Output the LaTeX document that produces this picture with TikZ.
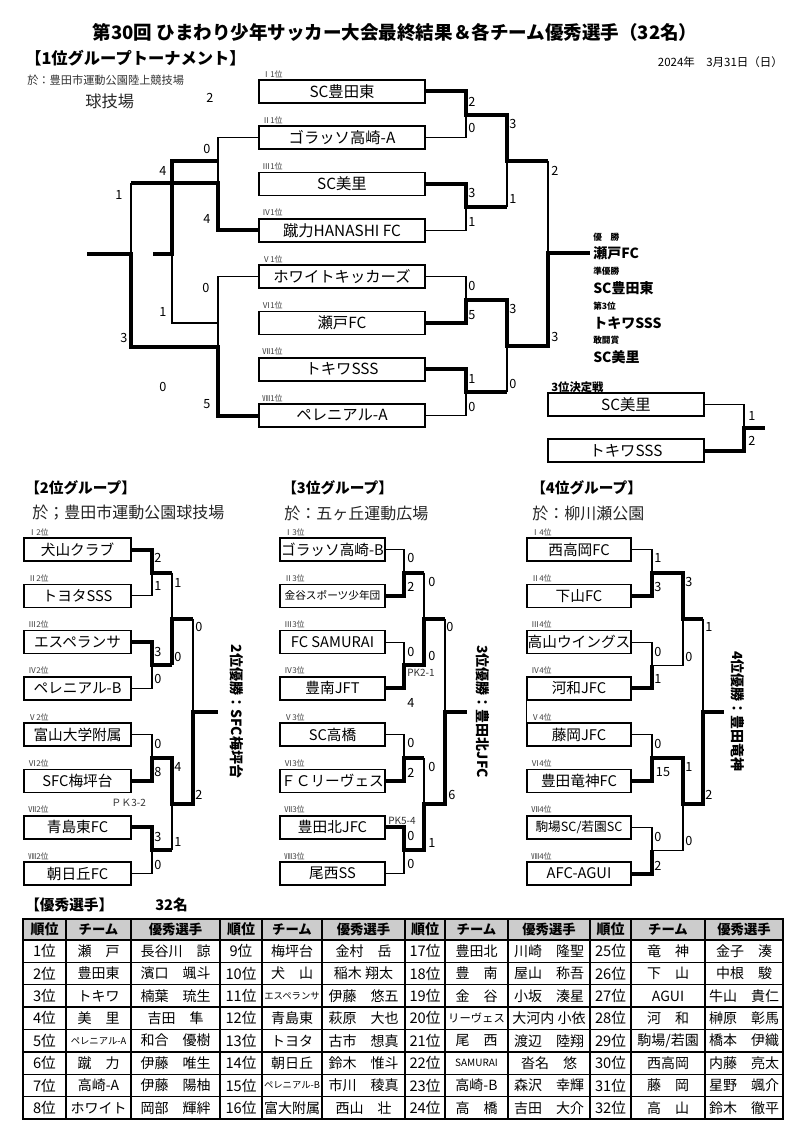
\documentclass[tikz,border=0pt]{standalone}
\usepackage{fontspec}
\setmainfont{Noto Sans CJK JP}
\newcommand\fz[1]{\fontsize{#1pt}{#1pt}\selectfont}
\newcommand\TR[8]{%
 \node[tc,font=\fz{11}] (#1r) at (#2,#5) {#6};
 \node[tc] (#1t) at (#3,#5) {#7};
 \node[tc] (#1p) at (#4,#5) {#8};}
\begin{document}
\begin{tikzpicture}[x=0.75pt,y=-0.75pt,
 box/.style={draw, line width=1.2pt, minimum height=17.25pt, inner sep=0pt, font=\fz{11.5}},
 topbox/.style={box, minimum width=124.5pt},
 g2box/.style={box, minimum width=80.25pt, font=\fz{11}},
 g3box/.style={box, minimum width=78.75pt, font=\fz{11}},
 g4box/.style={box, minimum width=78pt, font=\fz{11}},
 qbox/.style={box, minimum width=117pt},
 win/.style={line width=3pt},
 lose/.style={line width=0.8pt},
 sc/.style={font=\fz{9.5}, inner sep=0pt},
 lab/.style={font=\fz{6}, text=black!75, inner sep=0pt, anchor=west},
 hd/.style={font=\bfseries\fz{11}, inner sep=0pt, anchor=west},
 ven/.style={font=\fz{12}, inner sep=0pt, anchor=west, text=black!85},
 vt/.style={font=\bfseries\fz{10.5}, inner sep=0pt, rotate=-90},
 cl/.style={font=\bfseries\fz{6.5}, inner sep=0pt, anchor=west},
 cn/.style={font=\bfseries\fz{10.5}, inner sep=0pt, anchor=west},
 tc/.style={inner sep=0pt, font=\fz{10.5}},
 th/.style={inner sep=0pt, font=\bfseries\fz{10}},
 tl/.style={line width=1pt},
 pk/.style={font=\fz{7.5}, inner sep=0pt, anchor=west, text=black!80}]
\path[use as bounding box, fill=white] (0,0) rectangle (787,1126);

% ---------- titles ----------
\node[font=\bfseries\fz{13.9}, inner sep=0pt] (title) at (395,32) {第30回 ひまわり少年サッカー大会最終結果＆各チーム優秀選手（32名）};
\node[hd, font=\bfseries\fz{12.2}] (h1) at (25,58) {【1位グループトーナメント】};
\node[font=\fz{8.6}, inner sep=0pt, anchor=east] (date) at (783,62) {2024年　3月31日（日）};
\node[font=\fz{8.4}, inner sep=0pt, anchor=west, text=black!80] (v1) at (27,80) {於：豊田市運動公園陸上競技場};
\node[font=\fz{12.2}, inner sep=0pt, anchor=west, text=black!85] (v1b) at (85,101) {球技場};
\node[sc] (x2) at (210,98) {2};

% ---------- 1st group boxes ----------
\node[topbox] (t1) at (342,91.5) {SC豊田東};
\node[topbox] (t2) at (342,137.8) {ゴラッソ高崎-A};
\node[topbox] (t3) at (342,184.1) {SC美里};
\node[topbox] (t4) at (342,230.4) {蹴力HANASHI FC};
\node[topbox] (t5) at (342,276.7) {ホワイトキッカーズ};
\node[topbox] (t6) at (342,322.9) {瀬戸FC};
\node[topbox] (t7) at (342,369.2) {トキワSSS};
\node[topbox] (t8) at (342,415.5) {ペレニアル-A};
\node[lab] (l1) at (262,74) {Ⅰ1位};
\node[lab] (l2) at (262,120.3) {Ⅱ1位};
\node[lab] (l3) at (262,166.6) {Ⅲ1位};
\node[lab] (l4) at (262,212.9) {Ⅳ1位};
\node[lab] (l5) at (262,259.2) {Ⅴ1位};
\node[lab] (l6) at (262,305.4) {Ⅵ1位};
\node[lab] (l7) at (262,351.7) {Ⅶ1位};
\node[lab] (l8) at (262,398) {Ⅷ1位};

% right side bracket
\coordinate (m1) at (466,114.65);
\coordinate (m2) at (466,207.25);
\coordinate (m3) at (466,299.8);
\coordinate (m4) at (466,392.35);
\coordinate (s1) at (507,160.95);
\coordinate (s2) at (507,346.1);
\coordinate (f) at (548,253.5);
\coordinate (fe) at (590,253.5);
\draw[win] (t1.east) -| (m1) -| (s1) -- (s1 -| f);
\draw[lose] (s1 -| f) -- (f);
\draw[lose] (t2.east) -| (m1);
\draw[win] (t3.east) -| (m2) -- (m2 -| s1);
\draw[lose] (m2 -| s1) -- (s1);
\draw[lose] (t4.east) -| (m2);
\draw[lose] (t5.east) -| (m3);
\draw[win] (t6.east) -| (m3) -| (s2) -| (f) -- (fe);
\draw[win] (t7.east) -| (m4) -- (m4 -| s2);
\draw[lose] (m4 -| s2) -- (s2);
\draw[lose] (t8.east) -| (m4);

% left side bracket
\coordinate (a0) at (218,161);
\coordinate (a1) at (218,183);
\coordinate (b1) at (131,183);
\coordinate (c1) at (172,161);
\coordinate (c2) at (172,254);
\coordinate (c3) at (153,254);
\coordinate (c4) at (172,323);
\coordinate (a5) at (218,323);
\coordinate (b0) at (87,254);
\coordinate (b2) at (131,254);
\coordinate (b3) at (131,347);
\coordinate (a3) at (218,347);
\draw[lose] (t2.west) -| (a1);
\draw[win] (b1) -- (a1) |- (t4.west);
\draw[win] (c3) -- (c2) -- (c1) -- (a0);
\draw[lose] (c2) -- (c4) -- (a5);
\draw[lose] (b1) -- (b2);
\draw[win] (b0) -- (b2) -- (b3) -- (a3) |- (t8.west);
\draw[lose] (t5.west) -| (a3);

% scores top
\node[sc] (s01) at (472,102) {2};
\node[sc] (s02) at (472,128) {0};
\node[sc] (s03) at (472,193) {3};
\node[sc] (s04) at (472,222) {1};
\node[sc] (s05) at (513,124) {3};
\node[sc] (s06) at (513,199) {1};
\node[sc] (s07) at (555,171) {2};
\node[sc] (s08) at (555,337) {3};
\node[sc] (s09) at (472,286) {0};
\node[sc] (s10) at (472,315) {5};
\node[sc] (s11) at (472,379) {1};
\node[sc] (s12) at (472,407) {0};
\node[sc] (s13) at (513,309) {3};
\node[sc] (s14) at (513,384) {0};
\node[sc] (s15) at (207,149) {0};
\node[sc] (s16) at (163,171) {4};
\node[sc] (s17) at (119,195) {1};
\node[sc] (s18) at (207,219) {4};
\node[sc] (s19) at (206,288) {0};
\node[sc] (s20) at (163,312) {1};
\node[sc] (s21) at (124,338) {3};
\node[sc] (s22) at (163,387) {0};
\node[sc] (s23) at (207,404) {5};

% champions
\node[cl] (c01) at (593,237) {優　勝};
\node[cn] (c02) at (593,253) {瀬戸FC};
\node[cl] (c03) at (593,271) {準優勝};
\node[cn] (c04) at (593,288) {SC豊田東};
\node[cl] (c05) at (593,306) {第3位};
\node[cn] (c06) at (593,323) {トキワSSS};
\node[cl] (c07) at (593,340) {敢闘賞};
\node[cn] (c08) at (593,357) {SC美里};

% third place match
\node[font=\bfseries\fz{8.5}, inner sep=0pt, anchor=west] (q0) at (551,387) {3位決定戦};
\node[qbox] (q1) at (626,404.5) {SC美里};
\node[qbox] (q2) at (626,450.5) {トキワSSS};
\coordinate (qm) at (744,427.5);
\coordinate (qe) at (765,427.5);
\draw[lose] (q1.east) -| (qm);
\draw[win] (q2.east) -| (qm) -- (qe);
\node[sc] (s24) at (752,416) {1};
\node[sc] (s25) at (752,441) {2};

% ---------- group headers ----------
\node[hd] (h2) at (25,488) {【2位グループ】};
\node[ven] (v2) at (32,513) {於；豊田市運動公園球技場};
\node[hd] (h3) at (282,488) {【3位グループ】};
\node[ven] (v3) at (284,513) {於：五ヶ丘運動広場};
\node[hd] (h4) at (531,488) {【4位グループ】};
\node[ven] (v4) at (532,513) {於：柳川瀬公園};

% ---------- group 2 ----------
\node[g2box] (g2t1) at (77.5,549.5) {犬山クラブ};
\node[g2box] (g2t2) at (77.5,595.8) {トヨタSSS};
\node[g2box] (g2t3) at (77.5,642.1) {エスペランサ};
\node[g2box] (g2t4) at (77.5,688.4) {ペレニアル-B};
\node[g2box] (g2t5) at (77.5,734.7) {富山大学附属};
\node[g2box] (g2t6) at (77.5,781.0) {SFC梅坪台};
\node[g2box] (g2t7) at (77.5,827.3) {青島東FC};
\node[g2box] (g2t8) at (77.5,873.6) {朝日丘FC};
\node[lab] (g2l1) at (28,532) {Ⅰ2位};
\node[lab] (g2l2) at (28,578.3) {Ⅱ2位};
\node[lab] (g2l3) at (28,624.6) {Ⅲ2位};
\node[lab] (g2l4) at (28,670.9) {Ⅳ2位};
\node[lab] (g2l5) at (28,717.2) {Ⅴ2位};
\node[lab] (g2l6) at (28,763.5) {Ⅵ2位};
\node[lab] (g2l7) at (28,809.8) {Ⅶ2位};
\node[lab] (g2l8) at (28,856.1) {Ⅷ2位};
\coordinate (g2m1) at (152,572.65);
\coordinate (g2m2) at (152,665.25);
\coordinate (g2m3) at (152,757.85);
\coordinate (g2m4) at (152,850.45);
\coordinate (g2s1) at (172,618.95);
\coordinate (g2s2) at (172,804.15);
\coordinate (g2f) at (193,711.55);
\coordinate (g2e) at (218,711.55);
\draw[win] (g2t1.east) -| (g2m1) -- (g2m1 -| g2s1);
\draw[lose] (g2t2.east) -| (g2m1);
\draw[win] (g2t3.east) -| (g2m2) -- (g2m2 -| g2s1);
\draw[lose] (g2t4.east) -| (g2m2);
\draw[lose] (g2m1 -| g2s1) -- (g2s1);
\draw[win] (g2m2 -| g2s1) -- (g2s1) -- (g2s1 -| g2f);
\draw[lose] (g2s1 -| g2f) -- (g2f);
\draw[lose] (g2t5.east) -| (g2m3);
\draw[win] (g2t6.east) -| (g2m3) -- (g2m3 -| g2s2) -- (g2s2) -- (g2s2 -| g2f) -- (g2f) -- (g2e);
\draw[win] (g2t7.east) -| (g2m4) -- (g2m4 -| g2s2);
\draw[lose] (g2t8.east) -| (g2m4);
\draw[lose] (g2m4 -| g2s2) -- (g2s2);
\node[sc] (g2s01) at (158,558) {2};
\node[sc] (g2s02) at (158,586) {1};
\node[sc] (g2s03) at (178,583) {1};
\node[sc] (g2s04) at (199,627) {0};
\node[sc] (g2s05) at (158,652) {3};
\node[sc] (g2s06) at (178,657) {0};
\node[sc] (g2s07) at (158,679) {0};
\node[sc] (g2s08) at (158,744) {0};
\node[sc] (g2s09) at (158,772) {8};
\node[sc] (g2s10) at (178,767) {4};
\node[sc] (g2s11) at (199,795) {2};
\node[sc] (g2s12) at (158,837) {3};
\node[sc] (g2s13) at (178,842) {1};
\node[sc] (g2s14) at (158,865) {0};
\node[pk] (g2pk) at (111,803) {ＰＫ3-2};
\node[vt] (g2v) at (237,711.5) {2位優勝：SFC梅坪台};

% ---------- group 3 ----------
\node[g3box] (g3t1) at (332.5,549.5) {ゴラッソ高崎-B};
\node[g3box] (g3t2) at (332.5,595.8) {\fz{8}金谷スポーツ少年団};
\node[g3box] (g3t3) at (332.5,642.1) {FC SAMURAI};
\node[g3box] (g3t4) at (332.5,688.4) {豊南JFT};
\node[g3box] (g3t5) at (332.5,734.7) {SC高橋};
\node[g3box] (g3t6) at (332.5,781.0) {ＦＣリーヴェス};
\node[g3box] (g3t7) at (332.5,827.3) {豊田北JFC};
\node[g3box] (g3t8) at (332.5,873.6) {尾西SS};
\node[lab] (g3l1) at (284,532) {Ⅰ3位};
\node[lab] (g3l2) at (284,578.3) {Ⅱ3位};
\node[lab] (g3l3) at (284,624.6) {Ⅲ3位};
\node[lab] (g3l4) at (284,670.9) {Ⅳ3位};
\node[lab] (g3l5) at (284,717.2) {Ⅴ3位};
\node[lab] (g3l6) at (284,763.5) {Ⅵ3位};
\node[lab] (g3l7) at (284,809.8) {Ⅶ3位};
\node[lab] (g3l8) at (284,856.1) {Ⅷ3位};
\coordinate (g3m1) at (404,572.65);
\coordinate (g3m2) at (404,665.25);
\coordinate (g3m3) at (404,757.85);
\coordinate (g3m4) at (404,850.45);
\coordinate (g3s1) at (424,618.95);
\coordinate (g3s2) at (424,804.15);
\coordinate (g3f) at (445,711.55);
\coordinate (g3e) at (467,711.55);
\draw[lose] (g3t1.east) -| (g3m1);
\draw[win] (g3t2.east) -| (g3m1) -- (g3m1 -| g3s1);
\draw[lose] (g3t3.east) -| (g3m2);
\draw[win] (g3t4.east) -| (g3m2) -- (g3m2 -| g3s1) -- (g3s1) -- (g3s1 -| g3f);
\draw[lose] (g3m1 -| g3s1) -- (g3s1);
\draw[lose] (g3s1 -| g3f) -- (g3f);
\draw[lose] (g3t5.east) -| (g3m3);
\draw[win] (g3t6.east) -| (g3m3) -- (g3m3 -| g3s2);
\draw[lose] (g3m3 -| g3s2) -- (g3s2);
\draw[win] (g3t7.east) -| (g3m4) -- (g3m4 -| g3s2) -- (g3s2) -- (g3s2 -| g3f) -- (g3f) -- (g3e);
\draw[lose] (g3t8.east) -| (g3m4);
\node[sc] (g3s01) at (411,558) {0};
\node[sc] (g3s02) at (411,587) {2};
\node[sc] (g3s03) at (432,582) {0};
\node[sc] (g3s04) at (450,627) {0};
\node[sc] (g3s05) at (411,652) {0};
\node[sc] (g3s06) at (432,656) {0};
\node[pk] (g3pk1) at (407,673) {PK2-1};
\node[sc] (g3s07) at (411,703) {4};
\node[sc] (g3s08) at (411,743) {0};
\node[sc] (g3s09) at (432,767) {0};
\node[sc] (g3s10) at (411,773) {2};
\node[sc] (g3s11) at (452,795) {6};
\node[pk] (g3pk2) at (388,821) {PK5-4};
\node[sc] (g3s12) at (411,836) {0};
\node[sc] (g3s13) at (432,843) {1};
\node[sc] (g3s14) at (411,864) {0};
\node[vt] (g3v) at (483,711.5) {3位優勝：豊田北JFC};

% ---------- group 4 ----------
\node[g4box] (g4t1) at (579,549.5) {西高岡FC};
\node[g4box] (g4t2) at (579,595.8) {下山FC};
\node[g4box] (g4t3) at (579,642.1) {高山ウイングス};
\node[g4box] (g4t4) at (579,688.4) {河和JFC};
\node[g4box] (g4t5) at (579,734.7) {藤岡JFC};
\node[g4box] (g4t6) at (579,781.0) {豊田竜神FC};
\node[g4box] (g4t7) at (579,827.3) {\fz{9.5}駒場SC/若園SC};
\node[g4box] (g4t8) at (579,873.6) {AFC-AGUI};
\node[lab] (g4l1) at (531,532) {Ⅰ4位};
\node[lab] (g4l2) at (531,578.3) {Ⅱ4位};
\node[lab] (g4l3) at (531,624.6) {Ⅲ4位};
\node[lab] (g4l4) at (531,670.9) {Ⅳ4位};
\node[lab] (g4l5) at (531,717.2) {Ⅴ4位};
\node[lab] (g4l6) at (531,763.5) {Ⅵ4位};
\node[lab] (g4l7) at (531,809.8) {Ⅶ4位};
\node[lab] (g4l8) at (531,856.1) {Ⅷ4位};
\draw[lose] (g4t4.south west) -- (g4t5.north west);
\coordinate (g4m1) at (652,572.65);
\coordinate (g4m2) at (652,665.25);
\coordinate (g4m3) at (652,757.85);
\coordinate (g4m4) at (652,850.45);
\coordinate (g4s1) at (683,618.95);
\coordinate (g4s2) at (683,804.15);
\coordinate (g4f) at (703,711.55);
\coordinate (g4e) at (724,711.55);
\draw[lose] (g4t1.east) -| (g4m1);
\draw[win] (g4t2.east) -| (g4m1) -- (g4m1 -| g4s1) -- (g4s1) -- (g4s1 -| g4f);
\draw[lose] (g4t3.east) -| (g4m2);
\draw[win] (g4t4.east) -| (g4m2);
\draw[lose] (g4m2) -- (g4m2 -| g4s1) -- (g4s1);
\draw[lose] (g4s1 -| g4f) -- (g4f);
\draw[lose] (g4t5.east) -| (g4m3);
\draw[win] (g4t6.east) -| (g4m3) -- (g4m3 -| g4s2) -- (g4s2) -- (g4s2 -| g4f) -- (g4f) -- (g4e);
\draw[lose] (g4t7.east) -| (g4m4);
\draw[win] (g4t8.east) -| (g4m4);
\draw[lose] (g4m4) -- (g4m4 -| g4s2) -- (g4s2);
\node[sc] (g4s01) at (658,558) {1};
\node[sc] (g4s02) at (658,587) {3};
\node[sc] (g4s03) at (689,582) {3};
\node[sc] (g4s04) at (709,627) {1};
\node[sc] (g4s05) at (658,652) {0};
\node[sc] (g4s06) at (689,657) {0};
\node[sc] (g4s07) at (658,679) {1};
\node[sc] (g4s08) at (658,744) {0};
\node[sc] (g4s09) at (663,772) {15};
\node[sc] (g4s10) at (689,767) {1};
\node[sc] (g4s11) at (709,795) {2};
\node[sc] (g4s12) at (658,837) {0};
\node[sc] (g4s13) at (689,841) {0};
\node[sc] (g4s14) at (658,866) {2};
\node[vt] (g4v) at (738,711.5) {4位優勝：豊田竜神};

% ---------- table ----------
\node[hd] (h5) at (25,905) {【優秀選手】};
\node[hd] (h6) at (155,905) {32名};
\fill[gray!40] (23,919) rectangle (783,940);
\foreach \k in {1,...,8} \draw[tl] (23,{940+\k*22.375}) -- (783,{940+\k*22.375});
\draw[tl] (23,940) -- (783,940);
\foreach \x in {66,131,262,322,445,508,631,705} \draw[tl] (\x,919) -- (\x,1119);
\foreach \x in {220,405,590} \draw[line width=1.8pt] (\x,919) -- (\x,1119);
\draw[line width=1.8pt] (23,919) rectangle (783,1119);
\foreach \a/\b/\c/\n in {44.5/98.5/175.5/1,241/292/363.5/2,425/476.5/549/3,610.5/668/744/4}{
 \node[th, font=\bfseries\fz{10.5}] (hr\n) at (\a,929.5) {順位};
 \node[th] (ht\n) at (\b,929.5) {チーム};
 \node[th] (hp\n) at (\c,929.5) {優秀選手};}
\TR{a1}{44.5}{98.5}{175.5}{951.19}{1位}{瀬　戸}{長谷川　諒}
\TR{a2}{44.5}{98.5}{175.5}{973.56}{2位}{豊田東}{濱口　颯斗}
\TR{a3}{44.5}{98.5}{175.5}{995.94}{3位}{トキワ}{楠葉　琉生}
\TR{a4}{44.5}{98.5}{175.5}{1018.31}{4位}{美　里}{吉田　隼}
\TR{a5}{44.5}{98.5}{175.5}{1040.69}{5位}{\fz{7}ペレニアル-A}{和合　優樹}
\TR{a6}{44.5}{98.5}{175.5}{1063.06}{6位}{蹴　力}{伊藤　唯生}
\TR{a7}{44.5}{98.5}{175.5}{1085.44}{7位}{高崎-A}{伊藤　陽柚}
\TR{a8}{44.5}{98.5}{175.5}{1107.81}{8位}{ホワイト}{岡部　輝絆}
\TR{b1}{241}{292}{363.5}{951.19}{9位}{梅坪台}{金村　岳}
\TR{b2}{241}{292}{363.5}{973.56}{10位}{犬　山}{稲木 翔太}
\TR{b3}{241}{292}{363.5}{995.94}{11位}{\fz{7}エスペランサ}{伊藤　悠五}
\TR{b4}{241}{292}{363.5}{1018.31}{12位}{青島東}{萩原　大也}
\TR{b5}{241}{292}{363.5}{1040.69}{13位}{トヨタ}{古市　想真}
\TR{b6}{241}{292}{363.5}{1063.06}{14位}{朝日丘}{鈴木　惟斗}
\TR{b7}{241}{292}{363.5}{1085.44}{15位}{\fz{7}ペレニアル-B}{市川　稜真}
\TR{b8}{241}{292}{363.5}{1107.81}{16位}{富大附属}{西山　壮}
\TR{c1}{425}{476.5}{549}{951.19}{17位}{豊田北}{川崎　隆聖}
\TR{c2}{425}{476.5}{549}{973.56}{18位}{豊　南}{屋山　称吾}
\TR{c3}{425}{476.5}{549}{995.94}{19位}{金　谷}{小坂　湊星}
\TR{c4}{425}{476.5}{549}{1018.31}{20位}{\fz{8.5}リーヴェス}{大河内 小依}
\TR{c5}{425}{476.5}{549}{1040.69}{21位}{尾　西}{渡辺　陸翔}
\TR{c6}{425}{476.5}{549}{1063.06}{22位}{\fz{7.5}SAMURAI}{沓名　悠}
\TR{c7}{425}{476.5}{549}{1085.44}{23位}{高崎-B}{森沢　幸輝}
\TR{c8}{425}{476.5}{549}{1107.81}{24位}{高　橋}{吉田　大介}
\TR{d1}{610.5}{668}{744}{951.19}{25位}{竜　神}{金子　湊}
\TR{d2}{610.5}{668}{744}{973.56}{26位}{下　山}{中根　駿}
\TR{d3}{610.5}{668}{744}{995.94}{27位}{AGUI}{牛山　貴仁}
\TR{d4}{610.5}{668}{744}{1018.31}{28位}{河　和}{榊原　彰馬}
\TR{d5}{610.5}{668}{744}{1040.69}{29位}{駒場/若園}{橋本　伊織}
\TR{d6}{610.5}{668}{744}{1063.06}{30位}{西高岡}{内藤　亮太}
\TR{d7}{610.5}{668}{744}{1085.44}{31位}{藤　岡}{星野　颯介}
\TR{d8}{610.5}{668}{744}{1107.81}{32位}{高　山}{鈴木　徹平}
\end{tikzpicture}
\end{document}
